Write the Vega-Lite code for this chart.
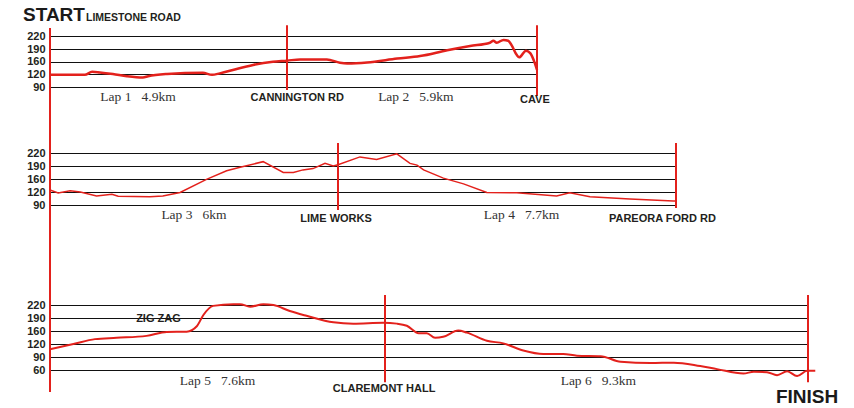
{
  "$schema": "https://vega.github.io/schema/vega-lite/v6.json",
  "background": "white",
  "padding": {"left": 23, "top": 6, "right": 5, "bottom": 2},
  "config": {
    "view": {"stroke": null},
    "axis": {
      "labelFont": "Liberation Sans", "labelFontWeight": "bold", "labelFontSize": 11,
      "labelColor": "#231f20", "domain": false, "ticks": false, "tickSize": 0,
      "labelPadding": 5, "grid": true, "gridColor": "#111111", "gridWidth": 1, "title": null
    }
  },
  "datasets": {
    "p1": [
      {"km": 0, "elev": 118}, {"km": 0.72, "elev": 118}, {"km": 0.87, "elev": 127}, {"km": 1.03, "elev": 125},
      {"km": 1.30, "elev": 120}, {"km": 1.59, "elev": 115}, {"km": 1.92, "elev": 112}, {"km": 2.03, "elev": 115},
      {"km": 2.42, "elev": 120}, {"km": 3.16, "elev": 124}, {"km": 3.35, "elev": 118}, {"km": 3.51, "elev": 122},
      {"km": 3.78, "elev": 133}, {"km": 4.20, "elev": 149}, {"km": 4.61, "elev": 159}, {"km": 4.90, "elev": 162},
      {"km": 5.21, "elev": 165}, {"km": 5.84, "elev": 165}, {"km": 6.15, "elev": 156}, {"km": 6.32, "elev": 154},
      {"km": 6.79, "elev": 157}, {"km": 7.50, "elev": 167}, {"km": 8.04, "elev": 173}, {"km": 8.68, "elev": 187},
      {"km": 9.22, "elev": 197}, {"km": 9.69, "elev": 204.5}, {"km": 9.77, "elev": 209}, {"km": 9.85, "elev": 204.5},
      {"km": 10.01, "elev": 211}, {"km": 10.12, "elev": 209}, {"km": 10.20, "elev": 199}, {"km": 10.32, "elev": 176},
      {"km": 10.38, "elev": 170}, {"km": 10.54, "elev": 186}, {"km": 10.64, "elev": 180}, {"km": 10.75, "elev": 154},
      {"km": 10.80, "elev": 133}
    ],
    "r1": [
      {"km": 0, "elev": 238.5, "elev2": -62},
      {"km": 4.9, "elev": 245, "elev2": 83},
      {"km": 10.8, "elev": 245, "elev2": 69}
    ],
    "lap1": [
      {"km": 1.82, "elev": 67, "label": "Lap 1\u00a0\u00a0\u00a04.9km"},
      {"km": 7.94, "elev": 68, "label": "Lap 2\u00a0\u00a0\u00a05.9km"}
    ],
    "place1": [
      {"km": 5.14, "elev": 64.5, "label": "CANNINGTON RD"},
      {"km": 10.75, "elev": 61, "label": "CAVE"}
    ],
    "start": [{"km": -0.558, "elev": 253.5, "label": "START"}],
    "startsub": [{"km": 0.744, "elev": 253.5, "label": "LIMESTONE ROAD"}],
    "p2": [
      {"km": 0, "elev": 126}, {"km": 0.17, "elev": 118}, {"km": 0.42, "elev": 124}, {"km": 0.63, "elev": 120},
      {"km": 0.97, "elev": 111}, {"km": 1.29, "elev": 115}, {"km": 1.42, "elev": 110}, {"km": 2.08, "elev": 109},
      {"km": 2.35, "elev": 111}, {"km": 2.71, "elev": 119}, {"km": 3.26, "elev": 159}, {"km": 3.68, "elev": 179},
      {"km": 3.96, "elev": 187}, {"km": 4.44, "elev": 200}, {"km": 4.86, "elev": 175}, {"km": 5.07, "elev": 175},
      {"km": 5.27, "elev": 181}, {"km": 5.48, "elev": 184}, {"km": 5.73, "elev": 196}, {"km": 5.90, "elev": 190},
      {"km": 6.00, "elev": 193}, {"km": 6.50, "elev": 211}, {"km": 6.88, "elev": 205}, {"km": 7.34, "elev": 218},
      {"km": 7.64, "elev": 196}, {"km": 7.80, "elev": 192}, {"km": 7.95, "elev": 181}, {"km": 8.40, "elev": 162},
      {"km": 8.86, "elev": 145}, {"km": 9.39, "elev": 119}, {"km": 10.07, "elev": 118}, {"km": 10.98, "elev": 111},
      {"km": 11.28, "elev": 118}, {"km": 11.74, "elev": 109}, {"km": 12.65, "elev": 104}, {"km": 13.64, "elev": 99},
      {"km": 13.70, "elev": 99}
    ],
    "r2": [
      {"km": 0, "elev": 250, "elev2": -141},
      {"km": 6, "elev": 243, "elev2": 78.5},
      {"km": 13.7, "elev": 243, "elev2": 83}
    ],
    "lap2": [
      {"km": 3.0, "elev": 67, "label": "Lap 3\u00a0\u00a0\u00a06km"},
      {"km": 10.18, "elev": 67, "label": "Lap 4\u00a0\u00a0\u00a07.7km"}
    ],
    "place2": [
      {"km": 5.96, "elev": 57, "label": "LIME WORKS"},
      {"km": 13.39, "elev": 57, "label": "PAREORA FORD RD"}
    ],
    "p3": [
      {"km": 0, "elev": 108}, {"km": 0.53, "elev": 120}, {"km": 1.02, "elev": 135}, {"km": 1.51, "elev": 139},
      {"km": 2.19, "elev": 145}, {"km": 2.65, "elev": 157}, {"km": 3.10, "elev": 158}, {"km": 3.33, "elev": 171},
      {"km": 3.48, "elev": 197}, {"km": 3.70, "elev": 218}, {"km": 4.16, "elev": 222}, {"km": 4.31, "elev": 222},
      {"km": 4.54, "elev": 216}, {"km": 4.84, "elev": 222}, {"km": 5.07, "elev": 220}, {"km": 5.44, "elev": 206},
      {"km": 5.82, "elev": 195}, {"km": 6.43, "elev": 180}, {"km": 6.88, "elev": 177}, {"km": 7.56, "elev": 179},
      {"km": 7.86, "elev": 177}, {"km": 8.08, "elev": 172}, {"km": 8.34, "elev": 153}, {"km": 8.52, "elev": 153},
      {"km": 8.70, "elev": 139}, {"km": 8.88, "elev": 142}, {"km": 9.21, "elev": 161}, {"km": 9.40, "elev": 155},
      {"km": 9.84, "elev": 130}, {"km": 10.20, "elev": 122}, {"km": 10.64, "elev": 105}, {"km": 11.08, "elev": 97},
      {"km": 11.52, "elev": 97}, {"km": 11.82, "elev": 93}, {"km": 12.34, "elev": 92}, {"km": 12.78, "elev": 79},
      {"km": 13.44, "elev": 76}, {"km": 13.95, "elev": 77}, {"km": 14.53, "elev": 69}, {"km": 14.90, "elev": 62},
      {"km": 15.48, "elev": 52}, {"km": 15.71, "elev": 56}, {"km": 16.00, "elev": 55}, {"km": 16.22, "elev": 48},
      {"km": 16.44, "elev": 57}, {"km": 16.66, "elev": 46}, {"km": 16.88, "elev": 58}, {"km": 17.06, "elev": 58}
    ],
    "r3": [
      {"km": 0, "elev": 220, "elev2": 9},
      {"km": 7.6, "elev": 243, "elev2": 32},
      {"km": 16.9, "elev": 243, "elev2": 32}
    ],
    "lap3": [
      {"km": 3.80, "elev": 35, "label": "Lap 5\u00a0\u00a0\u00a07.6km"},
      {"km": 12.29, "elev": 35, "label": "Lap 6\u00a0\u00a0\u00a09.3km"}
    ],
    "place3": [
      {"km": 2.46, "elev": 188, "label": "ZIG ZAG"},
      {"km": 7.58, "elev": 17, "label": "CLAREMONT HALL"}
    ],
    "finish": [{"km": 16.88, "elev": -2, "label": "FINISH"}]
  },
  "spacing": 66,
  "bounds": "flush",
  "vconcat": [
    {
      "width": 487, "height": 51,
      "encoding": {
        "x": {"field": "km", "type": "quantitative", "scale": {"domain": [0, 4.9, 10.8], "range": [0, 237, 487], "nice": false, "zero": false}, "axis": null},
        "y": {"field": "elev", "type": "quantitative", "scale": {"domain": [90, 120, 160, 190, 220], "range": [51, 38, 25.5, 13, 0], "nice": false, "zero": false},
              "axis": {"values": [90, 120, 160, 190, 220]}}
      },
      "layer": [
        {"data": {"name": "p1"}, "mark": {"type": "line", "color": "#e3211c", "strokeWidth": 2.5, "interpolate": "monotone"}},
        {"data": {"name": "r1"}, "mark": {"type": "rule", "color": "#e3211c", "strokeWidth": 2}, "encoding": {"y2": {"field": "elev2"}}},
        {"data": {"name": "lap1"}, "mark": {"type": "text", "font": "Liberation Serif", "fontSize": 13.5, "color": "#333333", "baseline": "middle"}, "encoding": {"text": {"field": "label"}}},
        {"data": {"name": "place1"}, "mark": {"type": "text", "font": "Liberation Sans", "fontWeight": "bold", "fontSize": 11, "color": "#231f20", "baseline": "middle"}, "encoding": {"text": {"field": "label"}}},
        {"data": {"name": "start"}, "mark": {"type": "text", "font": "Liberation Sans", "fontWeight": "bold", "fontSize": 19, "color": "#1a1a1a", "align": "left", "baseline": "alphabetic"}, "encoding": {"text": {"field": "label"}}},
        {"data": {"name": "startsub"}, "mark": {"type": "text", "font": "Liberation Sans", "fontWeight": "bold", "fontSize": 10.5, "color": "#231f20", "align": "left", "baseline": "alphabetic"}, "encoding": {"text": {"field": "label"}}}
      ]
    },
    {
      "width": 626, "height": 52,
      "encoding": {
        "x": {"field": "km", "type": "quantitative", "scale": {"domain": [0, 6, 13.7], "range": [0, 288, 626], "nice": false, "zero": false}, "axis": null},
        "y": {"field": "elev", "type": "quantitative", "scale": {"domain": [90, 120, 160, 190, 220], "range": [52, 39, 26, 13, 0], "nice": false, "zero": false},
              "axis": {"values": [90, 120, 160, 190, 220]}}
      },
      "layer": [
        {"data": {"name": "p2"}, "mark": {"type": "line", "color": "#e3211c", "strokeWidth": 1.5}},
        {"data": {"name": "r2"}, "mark": {"type": "rule", "color": "#e3211c", "strokeWidth": 2}, "encoding": {"y2": {"field": "elev2"}}},
        {"data": {"name": "lap2"}, "mark": {"type": "text", "font": "Liberation Serif", "fontSize": 13.5, "color": "#333333", "baseline": "middle"}, "encoding": {"text": {"field": "label"}}},
        {"data": {"name": "place2"}, "mark": {"type": "text", "font": "Liberation Sans", "fontWeight": "bold", "fontSize": 11, "color": "#231f20", "baseline": "middle"}, "encoding": {"text": {"field": "label"}}}
      ]
    },
    {
      "width": 758, "height": 99,
      "encoding": {
        "x": {"field": "km", "type": "quantitative", "scale": {"domain": [0, 7.6, 16.9], "range": [0, 335, 758], "nice": false, "zero": false}, "axis": null},
        "y": {"field": "elev", "type": "quantitative", "scale": {"domain": [60, 90, 120, 160, 190, 220], "range": [99, 86, 73, 60, 47, 34], "nice": false, "zero": false},
              "axis": {"values": [60, 90, 120, 160, 190, 220]}}
      },
      "layer": [
        {"data": {"name": "p3"}, "mark": {"type": "line", "color": "#e3211c", "strokeWidth": 2, "interpolate": "monotone"}},
        {"data": {"name": "r3"}, "mark": {"type": "rule", "color": "#e3211c", "strokeWidth": 2}, "encoding": {"y2": {"field": "elev2"}}},
        {"data": {"name": "lap3"}, "mark": {"type": "text", "font": "Liberation Serif", "fontSize": 13.5, "color": "#333333", "baseline": "middle"}, "encoding": {"text": {"field": "label"}}},
        {"data": {"name": "place3"}, "mark": {"type": "text", "font": "Liberation Sans", "fontWeight": "bold", "fontSize": 11, "color": "#231f20", "baseline": "middle"}, "encoding": {"text": {"field": "label"}}},
        {"data": {"name": "finish"}, "mark": {"type": "text", "font": "Liberation Sans", "fontWeight": "bold", "fontSize": 19, "color": "#1a1a1a", "baseline": "middle"}, "encoding": {"text": {"field": "label"}}}
      ]
    }
  ]
}
